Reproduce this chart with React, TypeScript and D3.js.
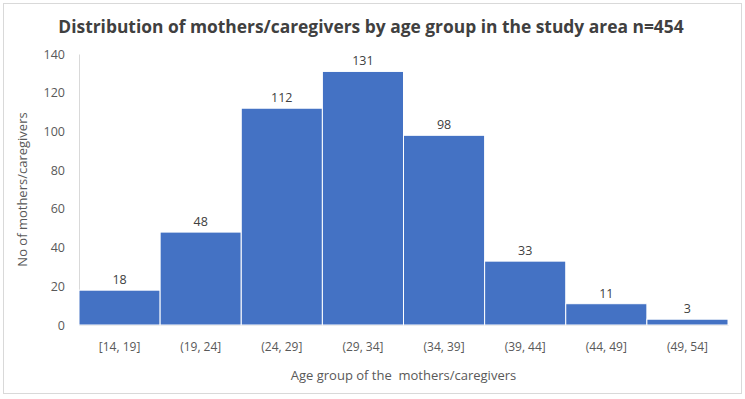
import React, { useEffect, useRef } from 'react';
import * as d3 from 'd3';

const categories = ['[14, 19]', '(19, 24]', '(24, 29]', '(29, 34]', '(34, 39]', '(39, 44]', '(44, 49]', '(49, 54]'];
const counts = [18, 48, 112, 131, 98, 33, 11, 3];
const yTicks = [0, 20, 40, 60, 80, 100, 120, 140];

const title = 'Distribution of mothers/caregivers by age group in the study area n=454';
const xTitle = 'Age group of the  mothers/caregivers';
const yTitle = 'No of mothers/caregivers';

const App: React.FC = () => {
  const svgRef = useRef<SVGSVGElement>(null);

  useEffect(() => {
    if (!svgRef.current) return;
    d3.select(svgRef.current).selectAll('*').remove();

    const svgWidth = 745;
    const svgHeight = 399;
    const margin = { top: 54, right: 17, bottom: 74, left: 79 };
    const width = svgWidth - margin.left - margin.right;
    const height = svgHeight - margin.top - margin.bottom;
    const font = 'Open Sans, sans-serif';
    const textColor = '#595959';

    const root = d3.select(svgRef.current)
      .attr('width', svgWidth)
      .attr('height', svgHeight);

    // Chart frame
    root.append('rect')
      .attr('x', 3.5)
      .attr('y', 3.5)
      .attr('width', 738)
      .attr('height', 390)
      .attr('fill', '#fff')
      .attr('stroke', '#d9d9d9');

    // Title
    root.append('text')
      .attr('x', 371)
      .attr('y', 33)
      .attr('text-anchor', 'middle')
      .style('font-family', font)
      .style('font-weight', 'bold')
      .style('font-size', '17.4px')
      .attr('fill', '#404040')
      .text(title);

    const svg = root.append('g')
      .attr('transform', `translate(${margin.left},${margin.top})`);

    const xScale = d3.scaleBand<string>()
      .domain(categories)
      .range([0, width])
      .padding(0);

    const yScale = d3.scaleLinear()
      .domain([0, 140])
      .range([height, 0]);

    // Y axis
    const yAxis = svg.append('g')
      .call(d3.axisLeft(yScale).tickValues(yTicks).tickSize(0).tickPadding(14));
    yAxis.select('.domain').attr('stroke', '#d9d9d9');
    yAxis.selectAll('text')
      .style('font-family', font)
      .style('font-size', '12.5px')
      .attr('fill', textColor);

    // X axis labels
    const xAxis = svg.append('g')
      .attr('transform', `translate(0,${height})`)
      .call(d3.axisBottom(xScale).tickSize(0).tickPadding(17));
    xAxis.select('.domain').attr('stroke', '#d9d9d9');
    xAxis.selectAll('text')
      .style('font-family', font)
      .style('font-size', '12px')
      .attr('fill', textColor);

    // Bars
    svg.selectAll('.bar')
      .data(counts)
      .enter()
      .append('rect')
      .attr('class', 'bar')
      .attr('x', (_, i) => xScale(categories[i]) as number)
      .attr('y', d => yScale(d))
      .attr('width', xScale.bandwidth())
      .attr('height', d => height - yScale(d))
      .attr('fill', '#4472c4')
      .attr('stroke', '#fff')
      .attr('stroke-width', 1);

    // Value labels
    svg.selectAll('.value')
      .data(counts)
      .enter()
      .append('text')
      .attr('class', 'value')
      .attr('x', (_, i) => (xScale(categories[i]) as number) + xScale.bandwidth() / 2)
      .attr('y', d => yScale(d) - 6)
      .attr('text-anchor', 'middle')
      .style('font-family', font)
      .style('font-size', '12.5px')
      .attr('fill', '#404040')
      .text(d => d);

    // Axis titles
    svg.append('text')
      .attr('x', width / 2)
      .attr('y', height + 55)
      .attr('text-anchor', 'middle')
      .style('font-family', font)
      .style('font-size', '13px')
      .style('white-space', 'pre')
      .attr('fill', textColor)
      .text(xTitle);

    svg.append('text')
      .attr('transform', 'rotate(-90)')
      .attr('x', -height / 2)
      .attr('y', -margin.left + 27)
      .attr('text-anchor', 'middle')
      .style('font-family', font)
      .style('font-size', '13px')
      .attr('fill', textColor)
      .text(yTitle);
  }, []);

  return <svg ref={svgRef} style={{ display: 'block', position: 'absolute', left: 0, top: 0 }}></svg>;
};

export default App;
